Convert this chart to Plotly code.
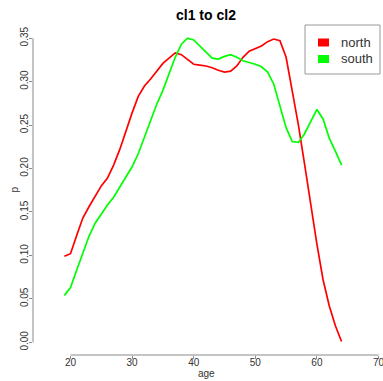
import plotly.graph_objects as go

ages = list(range(19, 65))
north = [0.099, 0.102, 0.123, 0.143, 0.156, 0.168, 0.180, 0.189, 0.204, 0.222,
         0.244, 0.264, 0.283, 0.295, 0.303, 0.312, 0.321, 0.327, 0.333, 0.331,
         0.326, 0.320, 0.319, 0.318, 0.316, 0.313, 0.311, 0.312, 0.318, 0.328,
         0.335, 0.338, 0.341, 0.346, 0.349, 0.347, 0.328, 0.289, 0.250, 0.205,
         0.158, 0.113, 0.072, 0.042, 0.019, 0.001]
south = [0.054, 0.063, 0.083, 0.103, 0.122, 0.137, 0.148, 0.158, 0.167, 0.179,
         0.190, 0.202, 0.217, 0.236, 0.257, 0.274, 0.290, 0.309, 0.328, 0.343,
         0.350, 0.348, 0.341, 0.333, 0.327, 0.326, 0.329, 0.331, 0.328, 0.324,
         0.322, 0.320, 0.317, 0.311, 0.297, 0.272, 0.247, 0.231, 0.230, 0.240,
         0.255, 0.268, 0.257, 0.235, 0.220, 0.204]
series_names = ["north", "south"]
series_colors = ["#FF0000", "#00FF00"]
x_ticks = [20, 30, 40, 50, 60, 70]
y_ticks = [0.00, 0.05, 0.10, 0.15, 0.20, 0.25, 0.30, 0.35]
title_text = "cl1 to cl2"
x_label = "age"
y_label = "p"

W, H = 383, 381
L, R, T, B = 33, 0, 26, 26
pw = W - L - R
ph = H - T - B

fig = go.Figure()
for name, vals, col in zip(series_names, [north, south], series_colors):
    fig.add_trace(go.Scatter(x=ages, y=vals, mode="lines", name=name,
                             line=dict(color=col, width=1.7), showlegend=False))

axis_col = "#8a8a8a"
txt_col = "#333333"
font_family = "Liberation Sans, Arial, sans-serif"

fig.update_layout(
    width=W, height=H,
    margin=dict(l=L, r=R, t=T, b=B),
    plot_bgcolor="white", paper_bgcolor="white",
    font=dict(family=font_family, color=txt_col, size=10),
    xaxis=dict(range=[13.912, 70.73], tickvals=x_ticks, ticktext=[str(v) for v in x_ticks],
               ticks="outside", ticklen=3, tickcolor=axis_col, showgrid=False,
               zeroline=False, showline=False, tickfont=dict(size=10, color=txt_col),
               ticklabeloverflow="allow", ticklabelstandoff=-5),
    yaxis=dict(range=[-0.0146, 0.364], tickvals=y_ticks, ticktext=["%.2f" % v for v in y_ticks],
               ticks="outside", ticklen=3, tickcolor=axis_col, showgrid=False,
               zeroline=False, showline=False, tickangle=-90,
               tickfont=dict(size=10, color=txt_col), ticklabelstandoff=-3),
)

def px2x(px):
    return (px - L) / pw

def py2y(py):
    return 1 - (py - T) / ph

# axis lines spanning tick range (R style)
fig.add_shape(type="line", xref="x", yref="paper", x0=x_ticks[0], x1=x_ticks[-1], y0=0, y1=0,
              line=dict(color=axis_col, width=1))
fig.add_shape(type="line", xref="paper", yref="y", x0=0, x1=0, y0=y_ticks[0], y1=y_ticks[-1],
              line=dict(color=axis_col, width=1))

# axis titles
fig.add_annotation(text=x_label, xref="paper", yref="paper", x=px2x(206), y=py2y(373),
                   xanchor="center", yanchor="middle", showarrow=False,
                   font=dict(size=10, color=txt_col, family=font_family))
fig.add_annotation(text=y_label, xref="paper", yref="paper", x=px2x(13.5), y=py2y(190),
                   xanchor="center", yanchor="middle", showarrow=False, textangle=-90,
                   font=dict(size=10, color=txt_col, family=font_family))

# title
fig.add_annotation(text="<b>" + title_text + "</b>", xref="paper", yref="paper",
                   x=px2x(206), y=py2y(15), xanchor="center", yanchor="middle",
                   showarrow=False, font=dict(size=14, color="black", family=font_family))

# legend (drawn manually)
fig.add_shape(type="rect", xref="paper", yref="paper", x0=px2x(305), x1=px2x(380),
              y0=py2y(74), y1=py2y(25), line=dict(color="#999999", width=1), fillcolor="white")
for i, (name, col) in enumerate(zip(series_names, series_colors)):
    cy = 42.5 + i * 16.5
    fig.add_shape(type="rect", xref="paper", yref="paper", x0=px2x(318), x1=px2x(329),
                  y0=py2y(cy + 4), y1=py2y(cy - 4), line=dict(width=0), fillcolor=col)
    fig.add_annotation(text=name, xref="paper", yref="paper", x=px2x(339), y=py2y(cy),
                       xanchor="left", yanchor="middle", showarrow=False,
                       font=dict(size=13, color=txt_col, family=font_family))

fig.write_html("out.html")
